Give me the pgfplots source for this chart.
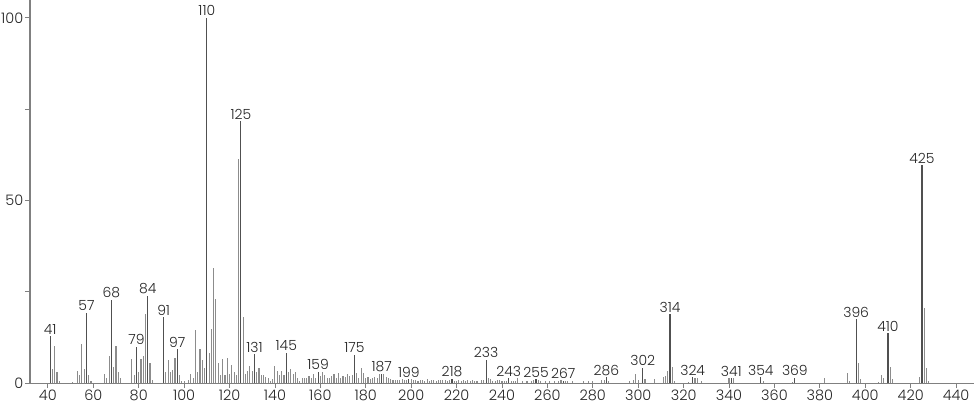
\documentclass[border=0pt]{standalone}
\usepackage{fontspec}
\setmainfont{Poppins}[UprightFont=* Light]
\usepackage{pgfplots}
\pgfplotsset{compat=1.18}
\definecolor{barlight}{HTML}{8C8C8C}
\definecolor{bardark}{HTML}{505050}
\definecolor{axisgray}{HTML}{808080}
\begin{document}
\fontsize{15}{17}\selectfont
\begin{tikzpicture}
\begin{axis}[
  scale only axis,
  width=946pt, height=384pt,
  xmin=32.1, xmax=447.9,
  ymin=0, ymax=104.9,
  axis lines=left,
  axis line style={-, axisgray, line width=1.2pt},
  xtick={40,60,...,440},
  ytick={0,50,100},
  minor ytick={25,75},
  tick style={axisgray, line width=0.8pt},
  major tick length=5pt, minor tick length=5pt,
  tick align=outside,
  tick label style={font=\fontsize{14.5}{16}\selectfont, text=black!85, inner sep=1.5pt},
  xticklabel style={yshift=0pt},
  yticklabel style={xshift=0pt},
  /pgf/number format/assume math mode=true,
  /pgf/number format/1000 sep={},
  clip=false,
]
\addplot[ycomb, barlight, line width=1.1pt] coordinates {
(42,4.0)(43,10.2)(44,3.0)(45,0.5)(51,0.3)(53,3.4)(54,2.2)(55,10.7)(56,4.0)(58,2.2)(59,0.5)
(65,2.5)(66,1.5)(67,7.5)(69,4.5)(70,10.2)(71,3.2)(72,1.5)(77,6.6)(78,2.2)(80,3.2)(81,6.6)(82,7.5)(83,18.9)(85,5.6)(86,0.8)
(92,3.2)(93,6.4)(94,3.2)(95,3.7)(96,6.9)(98,2.2)(99,0.5)(100,0.5)(102,0.8)(103,2.5)(104,1.4)(105,14.5)(106,3.2)(107,9.5)(108,6.3)(109,4.3)
(111,8.4)(112,14.8)(113,31.5)(114,23)(115,5.6)(116,2.2)(117,6.6)(118,2.2)(119,6.9)(120,2.5)(121,4.9)(122,3.2)(123,2.3)(124,61.5)(126,18)
(127,2.5)(128,3.4)(129,4.7)(130,3.4)(132,3.0)(133,4.3)(134,2.2)(135,2.2)(136,1.6)(137,1.3)(138,0.7)(139,1.2)(140,4.7)(141,3.4)(142,2.2)(143,3.4)(144,2.2)
(146,3.0)(147,4.0)(148,2.5)(149,3.2)(150,1.3)(151,0.7)(152,1.5)(153,1.5)(154,1.5)(155,2.0)(156,1.3)(157,2.5)(158,1.5)(160,2.0)(161,3.0)(162,2.2)(163,1.5)(164,1.5)(165,2.0)
(166,2.5)(167,1.5)(168,2.9)(169,1.5)(170,2.0)(171,1.8)(172,2.5)(173,2.0)(174,2.2)(176,2.7)(177,1.5)(178,4.3)(179,2.9)(180,1.5)(181,1.8)(182,1.2)(183,1.5)(184,1.8)(185,1.5)(186,2.5)
(188,2.4)(189,1.8)(190,1.5)(191,1.2)(192,1.0)(193,1.0)(194,0.8)(195,1.0)(196,1.2)(197,0.8)(198,1.0)(200,1.2)(201,1.0)(202,1.0)(203,0.6)(204,0.8)(205,1.0)(206,0.6)(207,1.2)(208,0.6)(209,0.8)
(210,1.0)(211,0.7)(212,0.8)(213,1.0)(214,0.8)(215,0.9)(216,0.6)(217,1.0)(219,0.7)(220,0.5)(221,0.8)(222,0.6)(223,0.9)(224,0.5)(225,1.0)(226,0.6)(227,0.8)(228,0.6)(229,0.5)(231,0.8)(232,1.0)
(234,1.4)(235,1.1)(236,0.7)(237,0.5)(238,0.8)(239,1.0)(240,0.7)(241,0.6)(242,0.5)(244,0.6)(245,0.5)(246,0.6)(247,1.3)(249,0.5)(251,0.6)(253,0.5)(254,0.8)(256,0.8)(257,0.5)(259,0.5)
(261,0.5)(263,0.6)(265,0.5)(266,0.8)(268,0.5)(269,0.6)(271,0.5)(276,0.6)(278,0.5)(280,0.5)(284,1.0)(285,0.8)(287,0.5)(296,0.7)(298,1.0)(299,2.4)(300,1.0)(303,1.1)(307,1.1)
(311,1.6)(312,2.0)(313,3.3)(315,4.4)(316,0.6)(322,0.4)(325,1.5)(326,1.5)(328,0.6)(340,1.3)(342,1.3)(355,0.6)(368,0.4)(382,1.3)(392,2.9)(393,0.6)(397,5.6)(398,1.1)
(406,0.4)(407,2.2)(408,1.3)(411,4.5)(412,1.1)(424,1.8)(426,20.5)(427,4.2)(428,0.5)
};
\addplot[ycomb, bardark, line width=1.1pt, point meta=x,
  nodes near coords, nodes near coords align={above},
  every node near coord/.append style={text=black!85, font=\fontsize{14}{16}\selectfont, inner sep=1.5pt, yshift=0pt}]
coordinates {
(41,12.9)(57,19.3)(68,22.7)(79,10.0)(84,24.0)(91,18.0)(97,9.3)(110,100)(125,71.7)(131,7.9)(145,8.4)(159,3.2)(175,7.7)(187,2.5)(199,1.1)(218,1.1)
(233,6.4)(243,1.3)(255,1.1)(267,0.7)(286,1.6)(302,4.3)(314,18.9)(324,1.6)(341,1.3)(354,1.6)(369,1.5)(396,17.5)(410,13.7)(425,59.6)
};
\end{axis}
\pgfresetboundingbox
\useasboundingbox ([xshift=-30pt, yshift=-22pt]current axis.south west) rectangle (current axis.north east);
\end{tikzpicture}
\end{document}
